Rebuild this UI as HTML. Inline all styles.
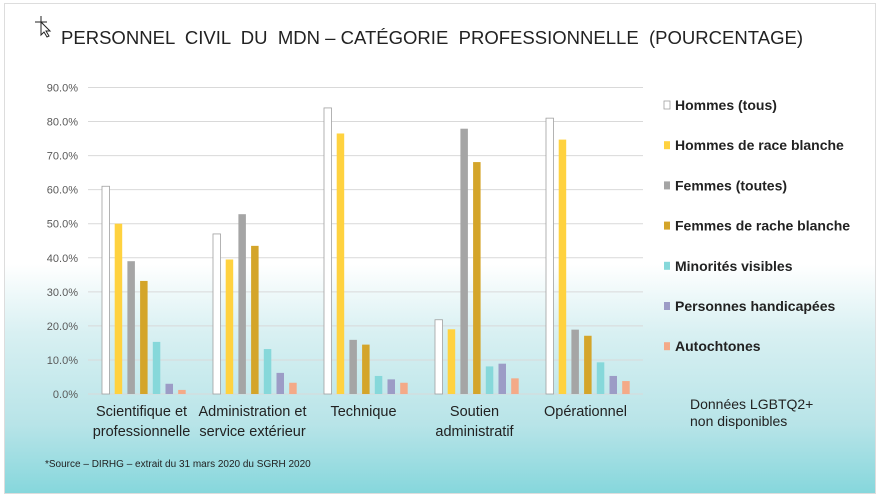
<!DOCTYPE html>
<html><head><meta charset="utf-8"><style>
html,body{margin:0;padding:0}
body{width:880px;height:497px;overflow:hidden;font-family:"Liberation Sans",sans-serif;background:#fff}
#slide{position:absolute;left:4px;top:3px;width:870px;height:489px;border:1px solid #ddd;
background:linear-gradient(to bottom,#fff 0px,#fff 260px,#d8f0f2 330px,#b8e4e8 420px,#86d7dc 489px)}
</style></head><body>
<div id="slide"></div>
<svg id="chart" width="880" height="497" style="position:absolute;left:0;top:0">
<g stroke="#222" fill="none" stroke-width="1">
<path d="M41 16 V28 M35 22 H47"/><path d="M41 22 l0 13 l3 -3 l3 5 l2 -1 l-3 -5 l4 0 z" fill="#fff"/>
</g>
<text x="61" y="44" font-size="18.5" fill="#222" textLength="742" lengthAdjust="spacingAndGlyphs" xml:space="preserve">PERSONNEL  CIVIL  DU  MDN – CATÉGORIE  PROFESSIONNELLE  (POURCENTAGE)</text>
<g id="grid"></g><g id="bars"></g><g id="labels"></g><g id="legend"></g>
<text x="690" y="409" font-size="14" fill="#222">Données LGBTQ2+</text>
<text x="690" y="426" font-size="14" fill="#222">non disponibles</text>
<text x="45" y="467" font-size="10" fill="#222">*Source – DIRHG – extrait du 31 mars 2020 du SGRH 2020</text>
</svg>
<script>
const categories=[["Scientifique et","professionnelle"],["Administration et","service extérieur"],["Technique"],["Soutien","administratif"],["Opérationnel"]];
const seriesNames=["Hommes (tous)","Hommes de race blanche","Femmes (toutes)","Femmes de rache blanche","Minorités visibles","Personnes handicapées","Autochtones"];
const hommes=[61,47,84,21.8,81];
const hommesBlancs=[50,39.5,76.5,19,74.7];
const femmes=[39,52.8,15.9,77.9,18.9];
const femmesBlanches=[33.2,43.5,14.5,68.1,17.1];
const minorites=[15.3,13.2,5.3,8.1,9.3];
const handicapees=[3,6.2,4.3,8.9,5.3];
const autochtones=[1.2,3.3,3.3,4.6,3.8];
const yTicks=[0,10,20,30,40,50,60,70,80,90];
const series=[hommes,hommesBlancs,femmes,femmesBlanches,minorites,handicapees,autochtones];
const colors=["#ffffff","#ffd23f","#a5a5a5","#d4a52a","#86d8da","#9c9cc6","#f4aa88"];
const ns="http://www.w3.org/2000/svg";
const x0=88,x1=643,y0=394,yTop=87.5,maxV=90;
const catW=(x1-x0)/categories.length;
function y(v){return y0-(v/maxV)*(y0-yTop);}
function xBar(c,s){return x0+c*catW+14+s*12.7;}
function mk(tag,attrs,parent){const e=document.createElementNS(ns,tag);for(const k in attrs)e.setAttribute(k,attrs[k]);parent.appendChild(e);return e;}
const grid=document.getElementById('grid'),bars=document.getElementById('bars'),labels=document.getElementById('labels'),legend=document.getElementById('legend');
yTicks.forEach(t=>{
  const l=mk('line',{x1:x0,x2:x1,y1:y(t),y2:y(t),stroke:'#d9d9d9','stroke-width':1},grid);
  
  
  const tx=mk('text',{x:78,y:y(t)+4,'font-size':11,fill:'#595959','text-anchor':'end'},grid);
  tx.textContent=t.toFixed(1)+'%';
  
  
});
series.forEach((arr,s)=>{
  arr.forEach((v,c)=>{
    const r=mk('rect',{x:xBar(c,s),y:y(v),width:7.5,height:y0-y(v),fill:colors[s]},bars);
    if(s===0){r.setAttribute('stroke','#a0a0a0');r.setAttribute('stroke-width','0.8');}
    
    
  });
});
categories.forEach((lines,c)=>{
  const cx=x0+c*catW+catW/2-2;
  lines.forEach((ln,i)=>{
    const t=mk('text',{x:cx,y:416+i*20,'font-size':14.5,fill:'#222','text-anchor':'middle','font-family':'"Liberation Sans Narrow","Liberation Sans",sans-serif'},labels);
    t.textContent=ln;
    
    
  });
});
seriesNames.forEach((n,i)=>{
  const yy=105+i*40.2;
  const r=mk('rect',{x:664,y:yy-4,width:6,height:8,fill:colors[i]},legend);
  if(i===0){r.setAttribute('stroke','#a0a0a0');r.setAttribute('stroke-width','0.8');}
  
  
  const t=mk('text',{x:675,y:yy+5,'font-size':14,'font-weight':'bold',fill:'#222'},legend);
  t.textContent=n;
  
  
});
</script>
</body></html>
